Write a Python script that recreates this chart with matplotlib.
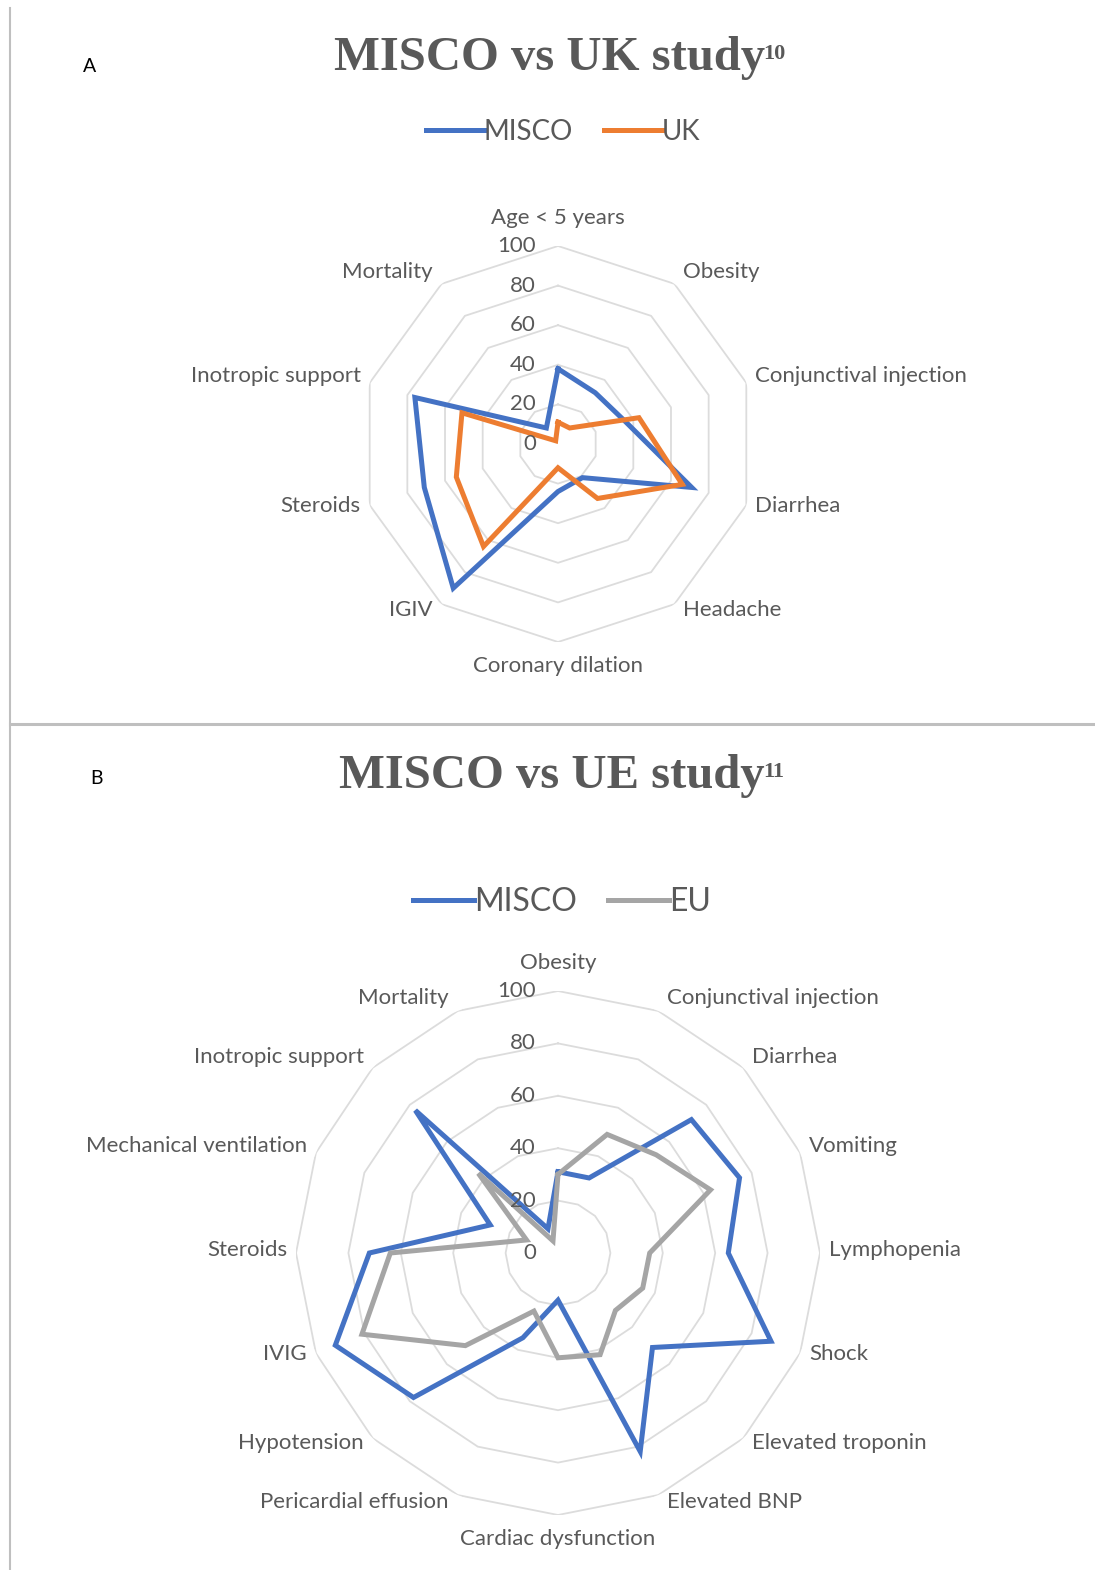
import numpy as np
import matplotlib
matplotlib.use("Agg")
import matplotlib.pyplot as plt
from matplotlib.lines import Line2D

# panel A: MISCO vs UK cohort (% of patients)
cats_a = ['Age < 5 years', 'Obesity', 'Conjunctival injection', 'Diarrhea',
          'Headache', 'Coronary dilation', 'IGIV', 'Steroids',
          'Inotropic support', 'Mortality']
misco_a = [38, 32, 36, 71, 21, 24, 90, 71, 76, 10]
uk = [11, 10, 43, 66, 34, 12, 64, 54, 51, 2]

# panel B: MISCO vs EU cohort (% of patients)
cats_b = ['Obesity', 'Conjunctival injection', 'Diarrhea', 'Vomiting',
          'Lymphopenia', 'Shock', 'Elevated troponin', 'Elevated BNP',
          'Cardiac dysfunction', 'Pericardial effusion', 'Hypotension', 'IVIG',
          'Steroids', 'Mechanical ventilation', 'Inotropic support', 'Mortality']
misco_b = [31, 31, 72, 75, 65, 88, 51, 82, 18, 35, 78, 92, 72, 28, 77, 10]
eu = [30, 49, 53, 63, 35, 35, 31, 42, 40, 24, 50, 81, 64, 13, 43, 5]

ticks = [0, 20, 40, 60, 80, 100]

BLUE = '#4472C4'
ORANGE = '#ED7D31'
GREY = '#A5A5A5'
TXT = '#595959'
SANS = ['Lato', 'DejaVu Sans']
SERIF = ['Liberation Serif', 'DejaVu Serif']

W, H = 1095, 1570
fig = plt.figure(figsize=(W / 100, H / 100), dpi=100)
fig.patch.set_facecolor('white')


def radar(cx, cy, R, cats, series, label_size, tick_size):
    ax = fig.add_axes([(cx - R) / W, (H - cy - R) / H, 2 * R / W, 2 * R / H],
                      projection='polar')
    ax.set_theta_zero_location('N')
    ax.set_theta_direction(-1)
    ax.set_ylim(0, 100)
    ax.grid(False)
    ax.set_xticks([])
    ax.set_yticks([])
    ax.spines['polar'].set_visible(False)
    ax.patch.set_visible(False)

    n = len(cats)
    theta = np.linspace(0, 2 * np.pi, n, endpoint=False)
    closed = np.append(theta, theta[0])

    # polygon rings
    for t in ticks[1:]:
        ax.plot(closed, [t] * (n + 1), color='#DCDCDC', lw=1.3, zorder=1)

    lines = []
    for vals, color, name in series:
        ln, = ax.plot(closed, list(vals) + [vals[0]], color=color, lw=3.6,
                      solid_joinstyle='miter', label=name, zorder=3)
        lines.append(ln)

    # value labels along the vertical axis
    for t in ticks:
        ax.annotate(str(t), xy=(0, t), xytext=(-22, 0), textcoords='offset pixels',
                    ha='right', va='center', fontsize=tick_size, color=TXT,
                    family=SANS, zorder=4)

    # category labels
    for ang, name in zip(theta, cats):
        s, c = np.sin(ang), np.cos(ang)
        if abs(s) < 1e-6:
            ha = 'center'
            dx = 0
            dy = 28 if c > 0 else -24
        else:
            ha = 'left' if s > 0 else 'right'
            dx = 9 if s > 0 else -9
            dy = 3 + 11 * c
        ax.annotate(name, xy=(ang, 100), xytext=(dx, dy), textcoords='offset pixels',
                    ha=ha, va='center', fontsize=label_size, color=TXT,
                    family=SANS, annotation_clip=False)
    return ax, lines


ax_a, lines_a = radar(558, 444, 198, cats_a,
                      [(misco_a, BLUE, 'MISCO'), (uk, ORANGE, 'UK')], 16, 16)
ax_b, lines_b = radar(558, 1253, 262, cats_b,
                      [(misco_b, BLUE, 'MISCO'), (eu, GREY, 'EU')], 16, 16)

# titles with superscript reference numbers
title_a = fig.text(550 / W, 1 - 58 / H, 'MISCO vs UK study', ha='center', va='center',
                   fontsize=35, fontweight='bold', color=TXT, family=SERIF)
ax_a.annotate('10', xy=(1, 1), xycoords=title_a, xytext=(-2, -8),
              textcoords='offset pixels', ha='left', va='top', fontsize=16,
              fontweight='bold', color=TXT, family=SERIF, annotation_clip=False)
title_b = fig.text(552 / W, 1 - 776 / H, 'MISCO vs UE study', ha='center', va='center',
                   fontsize=35, fontweight='bold', color=TXT, family=SERIF)
ax_b.annotate('11', xy=(1, 1), xycoords=title_b, xytext=(-2, -8),
              textcoords='offset pixels', ha='left', va='top', fontsize=16,
              fontweight='bold', color=TXT, family=SERIF, annotation_clip=False)

fig.text(90 / W, 1 - 66 / H, 'A', ha='center', va='center', fontsize=14,
         color='black', family=SANS)
fig.text(96 / W, 1 - 778 / H, 'B', ha='center', va='center', fontsize=14,
         color='black', family=SANS)

# legends
fig.legend(handles=lines_a, labels=['MISCO', 'UK'], loc='center',
           bbox_to_anchor=(563 / W, 1 - 132 / H), ncol=2, frameon=False,
           prop={'family': SANS, 'size': 20}, labelcolor=TXT,
           handlelength=2.1, handletextpad=0.0, columnspacing=1.1)
fig.legend(handles=lines_b, labels=['MISCO', 'EU'], loc='center',
           bbox_to_anchor=(562 / W, 1 - 902 / H), ncol=2, frameon=False,
           prop={'family': SANS, 'size': 23}, labelcolor=TXT,
           handlelength=1.9, handletextpad=0.0, columnspacing=1.0)

# panel frame lines
fig.add_artist(Line2D([10 / W, 10 / W], [0, 1 - 8 / H], transform=fig.transFigure,
                      color='#BFBFBF', lw=1.5))
fig.add_artist(Line2D([10 / W, 1], [1 - 724 / H, 1 - 724 / H], transform=fig.transFigure,
                      color='#BFBFBF', lw=2.2))

fig.savefig('out.png', dpi=100, facecolor='white')
